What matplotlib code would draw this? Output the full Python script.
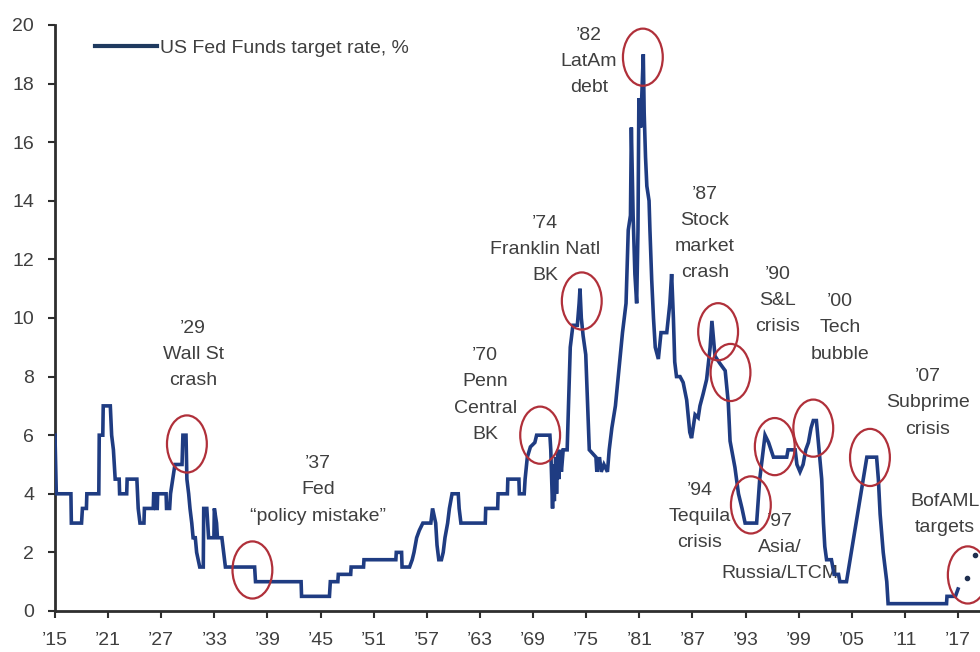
import matplotlib
matplotlib.use("Agg")
import matplotlib.pyplot as plt
from matplotlib.patches import Ellipse
from matplotlib import font_manager

# ---------------- data ----------------
years = [1915.0, 1915.15, 1916.8, 1916.85, 1918.0, 1918.1, 1918.55, 1918.6, 1919.95, 1920.0,
         1920.4, 1920.45, 1921.25, 1921.4, 1921.6, 1921.8, 1922.25, 1922.3, 1923.1, 1923.15,
         1924.25, 1924.4, 1924.6, 1925.05, 1925.1, 1926.1, 1926.15, 1926.35, 1926.4, 1926.55,
         1926.6, 1927.55, 1927.6, 1927.95, 1928.05, 1928.3, 1928.55, 1929.35, 1929.45, 1929.8,
         1929.9, 1930.1, 1930.25, 1930.45, 1930.6, 1930.85, 1931.0, 1931.35, 1931.75, 1931.8,
         1932.15, 1932.25, 1932.35, 1932.95, 1933.0, 1933.25, 1933.35, 1933.85, 1934.05, 1934.25,
         1937.55, 1937.65, 1942.8, 1942.85, 1946.0, 1946.1, 1946.95, 1947.0, 1948.4, 1948.45,
         1949.85, 1949.9, 1953.5, 1953.55, 1954.15, 1954.2, 1955.05, 1955.35, 1955.55, 1955.85,
         1956.15, 1956.55, 1957.45, 1957.65, 1958.0, 1958.15, 1958.35, 1958.65, 1958.85, 1959.05,
         1959.35, 1959.55, 1959.85, 1960.55, 1960.65, 1960.85, 1963.6, 1963.65, 1965.0, 1965.05,
         1966.1, 1966.15, 1967.4, 1967.45, 1968.0, 1968.1, 1968.35, 1968.7, 1969.2, 1969.4,
         1970.9, 1971.0, 1971.1, 1971.2, 1971.3, 1971.4, 1971.55, 1971.65, 1971.8, 1971.9,
         1972.05, 1972.2, 1972.4, 1972.85, 1973.0, 1973.2, 1973.5, 1974.0, 1974.2, 1974.3,
         1974.45, 1974.65, 1974.95, 1975.1, 1975.35, 1976.1, 1976.2, 1976.5, 1976.7, 1977.0,
         1977.4, 1977.6, 1977.9, 1978.3, 1978.7, 1979.1, 1979.5, 1979.75, 1980.0, 1980.1,
         1980.3, 1980.5, 1980.7, 1980.85, 1980.95, 1981.15, 1981.3, 1981.45, 1981.55, 1981.7,
         1981.85, 1982.1, 1982.2, 1982.4, 1982.6, 1982.8, 1983.15, 1983.45, 1984.1, 1984.45,
         1984.65, 1984.85, 1985.0, 1985.2, 1985.6, 1985.95, 1986.35, 1986.7, 1986.9, 1987.3,
         1987.65, 1987.85, 1988.2, 1988.6, 1989.0, 1989.2, 1989.55, 1990.1, 1990.7, 1991.05,
         1991.25, 1991.8, 1992.2, 1992.6, 1992.95, 1994.25, 1994.6, 1995.2, 1995.6, 1996.15,
         1997.65, 1997.8, 1998.6, 1998.8, 1999.15, 1999.5, 1999.8, 2000.1, 2000.4, 2000.65,
         2001.0, 2001.3, 2001.6, 2001.8, 2001.95, 2002.15, 2002.7, 2003.0, 2003.5, 2003.65,
         2004.4, 2006.7, 2007.8, 2008.0, 2008.2, 2008.55, 2008.95, 2009.1, 2015.7, 2015.75,
         2016.7, 2017.0]
rates = [6.0, 4.0, 4.0, 3.0, 3.0, 3.5, 3.5, 4.0, 4.0, 6.0,
         6.0, 7.0, 7.0, 6.0, 5.5, 4.5, 4.5, 4.0, 4.0, 4.5,
         4.5, 3.5, 3.0, 3.0, 3.5, 3.5, 4.0, 4.0, 3.5, 3.5,
         4.0, 4.0, 3.5, 3.5, 4.0, 4.5, 5.0, 5.0, 6.0, 6.0,
         4.5, 4.0, 3.5, 3.0, 2.5, 2.5, 2.0, 1.5, 1.5, 3.5,
         3.5, 3.0, 2.5, 2.5, 3.5, 3.0, 2.5, 2.5, 2.0, 1.5,
         1.5, 1.0, 1.0, 0.5, 0.5, 1.0, 1.0, 1.25, 1.25, 1.5,
         1.5, 1.75, 1.75, 2.0, 2.0, 1.5, 1.5, 1.75, 2.0, 2.5,
         2.75, 3.0, 3.0, 3.5, 3.0, 2.25, 1.75, 1.75, 2.0, 2.5,
         3.0, 3.5, 4.0, 4.0, 3.5, 3.0, 3.0, 3.5, 3.5, 4.0,
         4.0, 4.5, 4.5, 4.0, 4.0, 4.5, 5.25, 5.6, 5.75, 6.0,
         6.0, 5.5, 4.5, 3.5, 5.0, 3.75, 5.25, 4.0, 5.5, 4.5,
         5.5, 4.75, 5.5, 5.5, 7.0, 9.0, 9.75, 9.75, 10.5, 11.0,
         10.0, 9.4, 8.75, 7.5, 5.5, 5.25, 4.75, 5.25, 4.75, 5.0,
         4.75, 5.5, 6.25, 7.0, 8.25, 9.5, 10.5, 13.0, 13.5, 16.5,
         13.5, 11.5, 10.5, 13.0, 17.5, 16.5, 17.75, 19.0, 17.0, 15.5,
         14.5, 14.0, 13.0, 11.3, 10.0, 9.0, 8.6, 9.5, 9.5, 10.5,
         11.5, 10.0, 8.5, 8.0, 8.0, 7.8, 7.2, 6.1, 5.9, 6.7,
         6.6, 7.0, 7.4, 7.9, 9.0, 9.9, 8.7, 8.45, 8.2, 7.1,
         5.8, 4.9, 4.0, 3.5, 3.0, 3.0, 4.5, 6.0, 5.75, 5.25,
         5.25, 5.5, 5.5, 5.0, 4.75, 5.0, 5.5, 5.75, 6.25, 6.5,
         6.5, 5.5, 4.5, 3.0, 2.2, 1.75, 1.75, 1.25, 1.25, 1.0,
         1.0, 5.25, 5.25, 4.5, 3.3, 2.0, 1.0, 0.25, 0.25, 0.5,
         0.5, 0.75]

target_years = [2018.0, 2018.9]
target_rates = [1.12, 1.9]

tick_years = list(range(1915, 2018, 6))
tick_labels = ["\u2019" + str(y)[2:] for y in tick_years]
y_ticks = list(range(0, 21, 2))

events = ["\u201929\nWall St\ncrash",
          "\u201937\nFed\n\u201cpolicy mistake\u201d",
          "\u201970\nPenn\nCentral\nBK",
          "\u201974\nFranklin Natl\nBK",
          "\u201982\nLatAm\ndebt",
          "\u201987\nStock\nmarket\ncrash",
          "\u201990\nS&L\ncrisis",
          "\u201900\nTech\nbubble",
          "\u201907\nSubprime\ncrisis",
          "\u201994\nTequila\ncrisis",
          "\u201997\nAsia/\nRussia/LTCM",
          "BofAML\ntargets"]
event_text_x = [1930.6, 1944.7, 1963.6, 1970.35, 1975.3, 1988.4, 1996.65, 2003.65, 2013.6, 1987.85, 1996.9, 2015.5]
event_text_y = [8.74, 4.13, 7.37, 12.35, 18.75, 12.88, 10.61, 9.66, 7.1, 3.22, 2.18, 3.28]

circle_x = [1929.9, 1937.3, 1969.8, 1974.5, 1981.4, 1989.9, 1991.3, 1993.6, 1996.3, 2000.65, 2007.05, 2018.1]
circle_y = [5.7, 1.4, 6.0, 10.58, 18.9, 9.53, 8.14, 3.62, 5.61, 6.24, 5.24, 1.23]

# ---------------- style ----------------
names = {f.name for f in font_manager.fontManager.ttflist}
if "Liberation Sans Narrow" in names:
    fam, fs = "Liberation Sans Narrow", 16.8
else:
    fam, fs = "Liberation Sans", 14
plt.rcParams["font.family"] = [fam, "DejaVu Sans"]

line_color = "#1F3C82"
text_color = "#3F3F3F"
circle_color = "#B0303A"
axis_color = "#2E2E2E"

fig = plt.figure(figsize=(9.8, 6.52), dpi=100)
ax = fig.add_axes([0.0561, 0.0629, 0.9439, 0.8988])

ln, = ax.plot(years, rates, color=line_color, lw=2.6, zorder=3, solid_joinstyle="miter",
              label="US Fed Funds target rate, %")
ax.scatter(target_years, target_rates, s=9, color="#1F2F4F", zorder=5, clip_on=False)

for x, y in zip(circle_x, circle_y):
    ax.add_patch(Ellipse((x, y), width=4.5, height=1.95, fill=False, ec=circle_color,
                         lw=1.6, zorder=4, clip_on=False))

for t, x, y in zip(events, event_text_x, event_text_y):
    ax.text(x, y, t, ha="center", va="center", fontsize=fs, color=text_color,
            linespacing=1.7, zorder=1)

ax.set_xlim(1915, 2019.48)
ax.set_ylim(0, 20)
ax.set_xticks(tick_years)
ax.set_xticklabels(tick_labels)
ax.set_yticks(y_ticks)

for s in ["top", "right"]:
    ax.spines[s].set_visible(False)
for s in ["left", "bottom"]:
    ax.spines[s].set_color(axis_color)
    ax.spines[s].set_linewidth(2.0)
ax.tick_params(axis="both", direction="out", length=5, width=1.5, color=axis_color,
               labelsize=fs, labelcolor=text_color)
ax.tick_params(axis="y", pad=10)
ax.tick_params(axis="x", pad=10)

leg = ax.legend(handles=[ln], loc="upper left", bbox_to_anchor=(0.043, 0.975), frameon=False,
                fontsize=fs, handlelength=3.2, handletextpad=0.15, borderpad=0, borderaxespad=0,
                labelcolor=text_color)
leg.get_lines()[0].set_linewidth(3)
leg.get_lines()[0].set_color("#1F3A5F")

fig.savefig("out.png", dpi=100)
